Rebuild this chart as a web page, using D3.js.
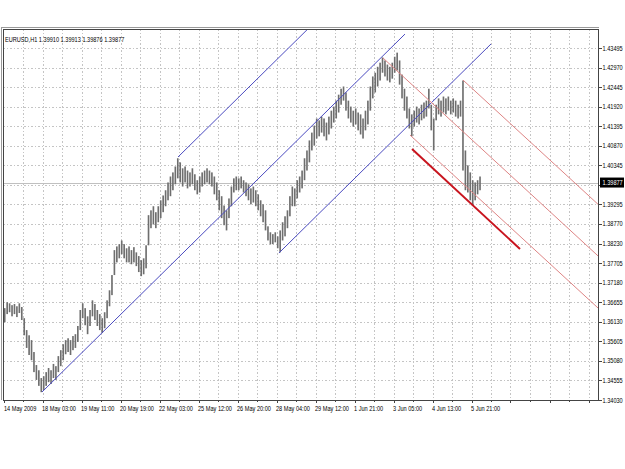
<!DOCTYPE html>
<html>
<head>
<meta charset="utf-8">
<script src="https://cdn.jsdelivr.net/npm/d3@7"></script>
<style>
  body { margin: 0; background: #fff; }
  text { font-family: "Liberation Sans", Arial, sans-serif; font-size: 7px; fill: #000; }
</style>
</head>
<body>
<svg id="chart" width="625" height="469"></svg>
<script>
// ---- data ----
var symbolInfo = "EURUSD,H1  1.39910 1.39913 1.39876 1.39877";
var bidPrice = 1.39877;
var hoursPerColumn = 2;   // each high/low pair below covers two hourly bars

var barHigh = [
  1.3650, 1.3666, 1.3663, 1.3658, 1.3661, 1.3655, 1.3663, 1.3653, 1.3623, 1.3591,
  1.3577, 1.3564, 1.3532, 1.3497, 1.3483, 1.3462, 1.3467, 1.3478, 1.3489, 1.3483,
  1.3500, 1.3494, 1.3521, 1.3537, 1.3553, 1.3564, 1.3569, 1.3564, 1.3575, 1.3580,
  1.3602, 1.3645, 1.3663, 1.3650, 1.3628, 1.3645, 1.3671, 1.3661, 1.3645, 1.3634,
  1.3623, 1.3639, 1.3671, 1.3698, 1.3739, 1.3806, 1.3816, 1.3822, 1.3832, 1.3822,
  1.3811, 1.3816, 1.3806, 1.3814, 1.3800, 1.3790, 1.3779, 1.3784, 1.3819, 1.3900,
  1.3913, 1.3924, 1.3908, 1.3924, 1.3940, 1.3953, 1.3967, 1.3988, 1.4004, 1.4015,
  1.4031, 1.4053, 1.4042, 1.4026, 1.4031, 1.4020, 1.4015, 1.4026, 1.4010, 1.3994,
  1.4004, 1.4015, 1.4020, 1.4026, 1.4020, 1.4015, 1.4004, 1.3988, 1.3967, 1.3951,
  1.3926, 1.3913, 1.3945, 1.3977, 1.3999, 1.4004, 1.3999, 1.4004, 1.3994, 1.3988,
  1.3983, 1.3972, 1.3977, 1.3967, 1.3956, 1.3940, 1.3929, 1.3913, 1.3870, 1.3854,
  1.3849, 1.3854, 1.3843, 1.3859, 1.3881, 1.3897, 1.3913, 1.3951, 1.3977, 1.3972,
  1.3994, 1.4004, 1.4020, 1.4053, 1.4074, 1.4101, 1.4122, 1.4141, 1.4160, 1.4155,
  1.4165, 1.4160, 1.4149, 1.4165, 1.4181, 1.4192, 1.4208, 1.4224, 1.4240, 1.4246,
  1.4230, 1.4208, 1.4192, 1.4181, 1.4187, 1.4176, 1.4171, 1.4160, 1.4181, 1.4208,
  1.4246, 1.4273, 1.4283, 1.4299, 1.4310, 1.4324, 1.4316, 1.4305, 1.4299, 1.4310,
  1.4326, 1.4337, 1.4316, 1.4278, 1.4240, 1.4219, 1.4187, 1.4171, 1.4181, 1.4192,
  1.4187, 1.4197, 1.4203, 1.4208, 1.4240, 1.4197, 1.4160, 1.4197, 1.4214, 1.4208,
  1.4219, 1.4214, 1.4219, 1.4208, 1.4214, 1.4208, 1.4197, 1.4208, 1.4262, 1.4074,
  1.4034, 1.4015, 1.3994, 1.3988, 1.3994, 1.4004
];
var barLow = [
  1.3612, 1.3634, 1.3639, 1.3628, 1.3634, 1.3626, 1.3637, 1.3618, 1.3577, 1.3543,
  1.3524, 1.3510, 1.3478, 1.3457, 1.3441, 1.3424, 1.3430, 1.3441, 1.3451, 1.3446,
  1.3462, 1.3457, 1.3478, 1.3494, 1.3510, 1.3526, 1.3532, 1.3524, 1.3537, 1.3543,
  1.3559, 1.3591, 1.3623, 1.3604, 1.3580, 1.3602, 1.3628, 1.3618, 1.3602, 1.3591,
  1.3583, 1.3596, 1.3623, 1.3655, 1.3685, 1.3739, 1.3773, 1.3784, 1.3795, 1.3784,
  1.3773, 1.3773, 1.3768, 1.3773, 1.3763, 1.3747, 1.3736, 1.3741, 1.3757, 1.3819,
  1.3865, 1.3875, 1.3865, 1.3881, 1.3892, 1.3908, 1.3924, 1.3940, 1.3951, 1.3967,
  1.3983, 1.3999, 1.3988, 1.3977, 1.3988, 1.3972, 1.3977, 1.3983, 1.3967, 1.3956,
  1.3961, 1.3977, 1.3983, 1.3988, 1.3983, 1.3977, 1.3956, 1.3940, 1.3913, 1.3892,
  1.3873, 1.3859, 1.3892, 1.3924, 1.3961, 1.3967, 1.3967, 1.3972, 1.3961, 1.3951,
  1.3940, 1.3929, 1.3934, 1.3924, 1.3913, 1.3897, 1.3881, 1.3859, 1.3832, 1.3822,
  1.3822, 1.3827, 1.3811, 1.3800, 1.3832, 1.3843, 1.3865, 1.3897, 1.3924, 1.3924,
  1.3945, 1.3961, 1.3972, 1.3994, 1.4020, 1.4042, 1.4074, 1.4087, 1.4106, 1.4112,
  1.4122, 1.4112, 1.4101, 1.4117, 1.4133, 1.4149, 1.4160, 1.4176, 1.4197, 1.4208,
  1.4181, 1.4160, 1.4149, 1.4138, 1.4144, 1.4128, 1.4117, 1.4106, 1.4128, 1.4144,
  1.4181, 1.4214, 1.4230, 1.4246, 1.4262, 1.4283, 1.4273, 1.4262, 1.4257, 1.4267,
  1.4283, 1.4289, 1.4251, 1.4214, 1.4181, 1.4160, 1.4133, 1.4112, 1.4138, 1.4149,
  1.4144, 1.4155, 1.4160, 1.4165, 1.4187, 1.4128, 1.4074, 1.4155, 1.4171, 1.4165,
  1.4176, 1.4171, 1.4181, 1.4171, 1.4176, 1.4165, 1.4160, 1.4165, 1.4020, 1.3967,
  1.3961, 1.3940, 1.3926, 1.3940, 1.3956, 1.3967
];

// time axis: labels every 32 hourly bars, grid every 16
var timeLabels = ["14 May 2009", "18 May 03:00", "19 May 11:00", "20 May 19:00", "22 May 03:00",
  "25 May 12:00", "26 May 20:00", "28 May 04:00", "29 May 12:00", "1 Jun 21:00",
  "3 Jun 05:00", "4 Jun 13:00", "5 Jun 21:00"];
var priceTicks = [1.43495, 1.42970, 1.42445, 1.41920, 1.41395, 1.40870, 1.40345, 1.39820,
  1.39295, 1.38770, 1.38230, 1.37705, 1.37180, 1.36655, 1.36130, 1.35605, 1.35080,
  1.34555, 1.34030];

// trend lines: [hour1, price1, hour2, price2]
var blueLines = [
  [31.6, 1.34245, 329.4, 1.43869],
  [143.2, 1.40564, 329.4, 1.46582],
  [226.0, 1.37983, 400.0, 1.43603]
];
var redLines = [
  [311.4, 1.43226, 488.0, 1.37899],
  [377.0, 1.42634, 488.0, 1.39287],
  [333.5, 1.41156, 488.0, 1.36498]
];
var boldRedLine = [335.2, 1.40779, 423.8, 1.38090];

// ---- layout ----
var plot = { left: 3, top: 29, right: 598.5, bottom: 400 };
var svg = d3.select("#chart");

var x = d3.scaleLinear().domain([0, 488]).range([3.5, 598.25]);
var y = d3.scaleLinear().domain([1.34030, 1.43495]).range([400, 48]);

// MT4 text is narrow (Tahoma shrunk), squeeze Liberation Sans horizontally
function label(g, tx, ty, str) {
  return g.append("text")
    .attr("transform", "translate(" + tx + "," + ty + ") scale(0.8,1)")
    .text(str);
}

svg.append("defs").append("clipPath").attr("id", "plotClip")
  .append("rect")
  .attr("x", plot.left).attr("y", plot.top)
  .attr("width", plot.right - plot.left).attr("height", plot.bottom - plot.top);

// grid
var grid = svg.append("g").attr("stroke", "#c4c4c4").attr("stroke-dasharray", "1.5,2").attr("shape-rendering", "crispEdges");
grid.selectAll("line.h").data(priceTicks).enter().append("line")
  .attr("x1", plot.left).attr("x2", plot.right)
  .attr("y1", function(d) { return Math.round(y(d)) + 0.5; })
  .attr("y2", function(d) { return Math.round(y(d)) + 0.5; });
grid.selectAll("line.v").data(d3.range(16, 488, 16)).enter().append("line")
  .attr("y1", plot.top).attr("y2", plot.bottom)
  .attr("x1", function(d) { return Math.round(x(d)) + 0.5; })
  .attr("x2", function(d) { return Math.round(x(d)) + 0.5; });

// bid line
svg.append("line")
  .attr("x1", plot.left).attr("x2", plot.right)
  .attr("y1", Math.round(y(bidPrice)) + 0.5).attr("y2", Math.round(y(bidPrice)) + 0.5)
  .attr("stroke", "#c0c0c0").attr("shape-rendering", "crispEdges");

// price bars
var bars = svg.append("g").attr("clip-path", "url(#plotClip)");
bars.selectAll("rect").data(barHigh).enter().append("rect")
  .attr("x", function(d, i) { return x(i * hoursPerColumn) + 0.4; })
  .attr("width", function(d, i) { return x((i + 1) * hoursPerColumn) - x(i * hoursPerColumn) - 0.8; })
  .attr("y", function(d) { return y(d); })
  .attr("height", function(d, i) { return Math.max(1, y(barLow[i]) - y(d)); })
  .attr("fill", "#6e6e6e");

// trend lines
var lines = svg.append("g").attr("clip-path", "url(#plotClip)").attr("fill", "none");
function drawLines(data, color, width) {
  lines.selectAll(null).data(data).enter().append("line")
    .attr("x1", function(d) { return x(d[0]); })
    .attr("y1", function(d) { return y(d[1]); })
    .attr("x2", function(d) { return x(d[2]); })
    .attr("y2", function(d) { return y(d[3]); })
    .attr("stroke", color).attr("stroke-width", width);
}
drawLines(blueLines, "#4b4bc0", 1);
drawLines(redLines, "#de8585", 1);
drawLines([boldRedLine], "#c8141e", 2);

// frame
svg.append("rect")
  .attr("x", plot.left + 0.5).attr("y", plot.top + 0.5)
  .attr("width", plot.right - plot.left - 0.5).attr("height", plot.bottom - plot.top)
  .attr("fill", "none").attr("stroke", "#444").attr("shape-rendering", "crispEdges");
svg.append("path")
  .attr("d", "M1.5," + plot.bottom + "V27.5H" + plot.right)
  .attr("fill", "none").attr("stroke", "#9a9a9a").attr("shape-rendering", "crispEdges");

// header text
label(svg, 5, 41.5, symbolInfo);

// time axis
var timeAxis = svg.append("g");
timeAxis.selectAll("line").data(d3.range(0, 488, 16)).enter().append("line")
  .attr("x1", function(d) { return Math.round(x(d)) + 0.5; })
  .attr("x2", function(d) { return Math.round(x(d)) + 0.5; })
  .attr("y1", plot.bottom).attr("y2", function(d) { return d % 32 === 0 ? plot.bottom + 3 : plot.bottom + 2; })
  .attr("stroke", "#444").attr("shape-rendering", "crispEdges");
timeLabels.forEach(function(d, i) {
  label(timeAxis, i === 0 ? 4 : x(i * 32) - 0.5, 410.5, d);
});

// price axis (the label hidden behind the bid box is not printed, as in MT4)
var yb = y(bidPrice);
var priceAxis = svg.append("g");
priceAxis.selectAll("line").data(priceTicks).enter().append("line")
  .attr("x1", plot.right).attr("x2", plot.right + 3)
  .attr("y1", function(d) { return Math.round(y(d)) + 0.5; })
  .attr("y2", function(d) { return Math.round(y(d)) + 0.5; })
  .attr("stroke", "#444").attr("shape-rendering", "crispEdges");
priceTicks.forEach(function(d) {
  if (Math.abs(y(d) - yb) < 9) return;
  label(priceAxis, 602.5, y(d) + 2.5, d.toFixed(5));
});

// bid price label
svg.append("rect").attr("x", 600).attr("y", yb - 5).attr("width", 24).attr("height", 10).attr("fill", "#000");
label(svg, 602.5, yb + 2.5, bidPrice.toFixed(5)).style("fill", "#fff");
</script>
</body>
</html>
